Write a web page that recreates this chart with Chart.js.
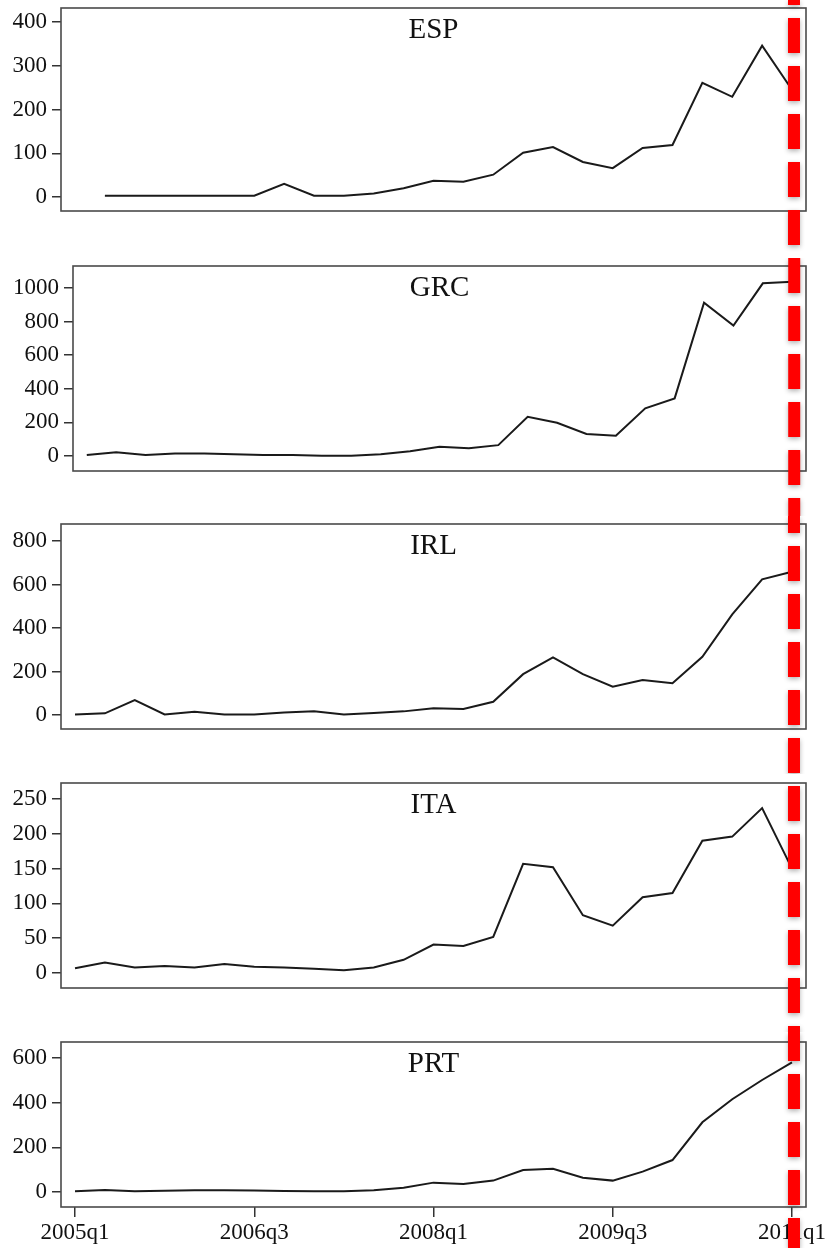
<!DOCTYPE html>
<html><head><meta charset="utf-8">
<script src="https://cdn.jsdelivr.net/npm/chart.js@4/dist/chart.umd.min.js"></script>
<style>
html,body{margin:0;padding:0;background:#fff;}
#wrap{position:relative;width:826px;height:1248px;overflow:hidden;background:#fff;}
.panel{position:absolute;left:0;width:826px;}
</style></head><body>
<div id="wrap"></div>
<script>
// ---- data ----
const quarters = ['2005q1','2005q2','2005q3','2005q4','2006q1','2006q2','2006q3','2006q4',
  '2007q1','2007q2','2007q3','2007q4','2008q1','2008q2','2008q3','2008q4',
  '2009q1','2009q2','2009q3','2009q4','2010q1','2010q2','2010q3','2010q4','2011q1'];
const espValues = [null,3,3,3,3,3,3,30,3,3,8,20,37,35,51,101,114,80,66,112,119,261,229,346,245];
const grcValues = [6,22,6,15,15,10,6,6,2,2,10,28,55,46,65,234,198,131,121,284,343,912,776,1028,1037];
const irlValues = [3,8,69,3,15,3,3,12,18,3,10,17,31,28,61,188,265,188,130,161,146,268,463,624,659];
const itaValues = [7,15,8,10,8,13,9,8,6,4,8,19,41,39,52,157,152,83,68,109,115,190,196,237,150];
const prtValues = [3,9,3,6,8,8,7,5,4,4,8,19,42,36,51,98,104,64,51,91,143,312,415,501,580];
const espTicks = [0,100,200,300,400];
const grcTicks = [0,200,400,600,800,1000];
const irlTicks = [0,200,400,600,800];
const itaTicks = [0,50,100,150,200,250];
const prtTicks = [0,200,400,600];
const xTickLabels = ['2005q1','2006q3','2008q1','2009q3','2011q1'];
const markerQuarter = '2011q1';

// ---- layout ----
const panels = [
  {title:'ESP', values:espValues, ticks:espTicks, min:-32, max:432, top:0,    height:258, padTop:8,  padBottom:47, axisW:61, showX:false},
  {title:'GRC', values:grcValues, ticks:grcTicks, min:-89, max:1131, top:258, height:258, padTop:8,  padBottom:45, axisW:73, showX:false},
  {title:'IRL', values:irlValues, ticks:irlTicks, min:-64, max:878, top:516,  height:258, padTop:8,  padBottom:45, axisW:61, showX:false},
  {title:'ITA', values:itaValues, ticks:itaTicks, min:-21.5, max:273, top:774, height:258, padTop:9, padBottom:44, axisW:61, showX:false},
  {title:'PRT', values:prtValues, ticks:prtTicks, min:-67, max:671, top:1032, height:216, padTop:10, padBottom:0, axisW:61, showX:true}
];

const FONT = "'Liberation Serif', 'Times New Roman', serif";
const wrap = document.getElementById('wrap');

const boxPlugin = {
  id:'box',
  afterDatasetsDraw(chart, args, opts){
    const {ctx, chartArea:a} = chart;
    ctx.save();
    ctx.strokeStyle = '#4a4a4a';
    ctx.lineWidth = 1.6;
    ctx.strokeRect(a.left, a.top, a.right - a.left, a.bottom - a.top);
    ctx.fillStyle = '#111';
    ctx.font = "29px " + FONT;
    ctx.textAlign = 'center';
    ctx.textBaseline = 'alphabetic';
    ctx.fillText(opts.title, (a.left + a.right) / 2, a.top + 30);
    ctx.restore();
  }
};

const markerPlugin = {
  id:'marker',
  afterDraw(chart, args, opts){
    const {ctx} = chart;
    const x = chart.scales.x.getPixelForValue(quarters.indexOf(markerQuarter)) + 2;
    ctx.save();
    ctx.strokeStyle = '#ff0000';
    ctx.lineWidth = 12;
    ctx.setLineDash([35,13]);
    ctx.lineDashOffset = opts.pageTop + 30;
    ctx.shadowColor = 'rgba(0,0,0,0.3)';
    ctx.shadowBlur = 5;
    ctx.shadowOffsetY = 2;
    ctx.beginPath();
    ctx.moveTo(x, 0);
    ctx.lineTo(x, chart.height);
    ctx.stroke();
    ctx.restore();
  }
};

panels.forEach(p => {
  const div = document.createElement('div');
  div.className = 'panel';
  div.style.top = p.top + 'px';
  div.style.height = p.height + 'px';
  const cv = document.createElement('canvas');
  div.appendChild(cv);
  wrap.appendChild(div);

  const pts = quarters.map((q,i) => ({x:i, y:p.values[i]}));
  new Chart(cv, {
    type:'line',
    data:{datasets:[{data:pts, borderColor:'#1a1a1a', borderWidth:2, pointRadius:0, tension:0, fill:false}]},
    plugins:[boxPlugin, markerPlugin],
    options:{
      responsive:true, maintainAspectRatio:false, animation:false, devicePixelRatio:1,
      layout:{padding:{left:0, right:20, top:p.padTop, bottom:p.padBottom}},
      plugins:{legend:{display:false}, tooltip:{enabled:false}, title:{display:false},
        box:{title:p.title}, marker:{pageTop:p.top}},
      scales:{
        x:{
          type:'linear', display:p.showX, min:-0.469, max:24.469,
          afterBuildTicks:s => { s.ticks = xTickLabels.map(l => ({value:quarters.indexOf(l)})); },
          afterFit:s => { if (p.showX) { s.height = 41; } s.paddingLeft = 0; s.paddingRight = 0; },
          grid:{drawOnChartArea:false, drawTicks:true, tickLength:10, color:'#333', lineWidth:1.5},
          border:{display:false},
          ticks:{autoSkip:false, maxRotation:0, minRotation:0, padding:2, color:'#111',
            font:{family:FONT, size:23}, callback:v => quarters[v]}
        },
        y:{
          type:'linear', min:p.min, max:p.max,
          afterBuildTicks:s => { s.ticks = p.ticks.map(v => ({value:v})); },
          afterFit:s => { s.width = p.axisW; s.paddingTop = 0; s.paddingBottom = 0; },
          grid:{drawOnChartArea:false, drawTicks:true, tickLength:9, color:'#333', lineWidth:1.5},
          border:{display:false},
          ticks:{padding:5, color:'#111', font:{family:FONT, size:23}, callback:v => String(v)}
        }
      }
    }
  });
});
</script>
</body></html>
